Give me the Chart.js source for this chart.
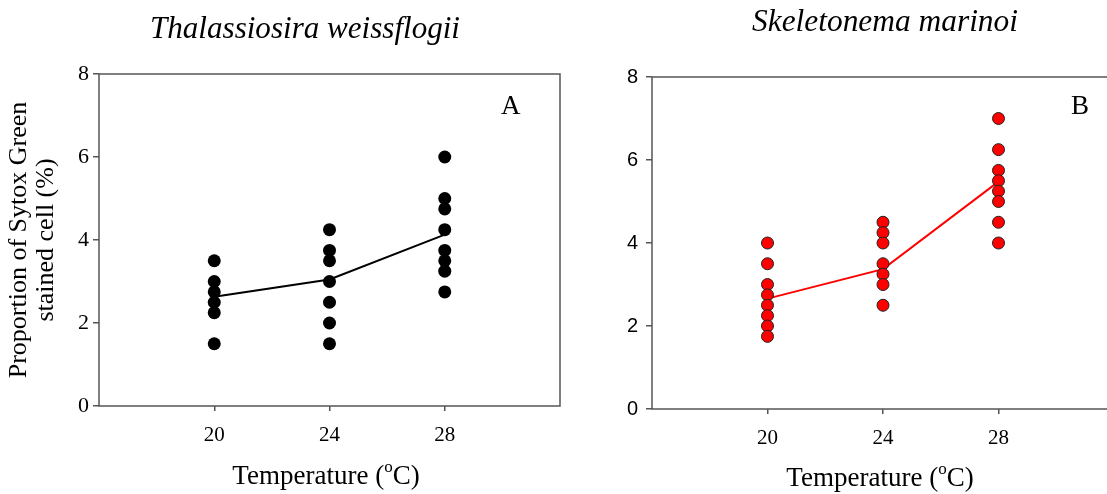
<!DOCTYPE html>
<html>
<head>
<meta charset="utf-8">
<title>Sytox Green staining vs temperature</title>
<script src="https://cdn.jsdelivr.net/npm/chart.js@4.4.0/dist/chart.umd.min.js"></script>
<style>
  html, body { margin: 0; padding: 0; background: #fff; }
  body { width: 1107px; height: 494px; overflow: hidden; position: relative; }
  .panel { position: absolute; top: 0; height: 494px; }
  #panelA { left: 0; width: 580px; }
  #panelB { left: 580px; width: 560px; }
</style>
</head>
<body>
<div class="panel" id="panelA"><canvas id="chartA" width="580" height="494"></canvas></div>
<div class="panel" id="panelB"><canvas id="chartB" width="560" height="494"></canvas></div>
<script>
// Temperatures (°C) and Sytox Green stained cells (%) per replicate
const temperatures = [20, 24, 28];
const xTicks = [20, 24, 28];
const yTicks = [0, 2, 4, 6, 8];

// Thalassiosira weissflogii
const tw20 = [3.5, 3.0, 2.75, 2.5, 2.25, 1.5];
const tw24 = [4.25, 3.75, 3.5, 3.0, 2.5, 2.0, 1.5];
const tw28 = [6.0, 5.0, 4.75, 4.25, 3.75, 3.5, 3.25, 2.75];
const twMeans = [2.63, 3.05, 4.13];

// Skeletonema marinoi
const sm20 = [4.0, 3.5, 3.0, 2.75, 2.5, 2.25, 2.0, 1.75];
const sm24 = [4.5, 4.25, 4.0, 3.5, 3.25, 3.0, 2.5];
const sm28 = [7.0, 6.25, 5.75, 5.5, 5.25, 5.0, 4.5, 4.0];
const smMeans = [2.66, 3.37, 5.48];

function toPoints(groups) {
  const pts = [];
  groups.forEach((vals, i) => vals.forEach(v => pts.push({ x: temperatures[i], y: v })));
  return pts;
}
function meanLine(means) {
  return means.map((m, i) => ({ x: temperatures[i], y: m }));
}

// frame, species name, panel letter and axis titles (superscript degree sign)
const panelText = {
  id: 'panelText',
  afterDraw(chart, args, o) {
    const ctx = chart.ctx, a = chart.chartArea;
    ctx.save();
    ctx.strokeStyle = '#555';
    ctx.lineWidth = 1.5;
    ctx.strokeRect(a.left, a.top, a.right - a.left, a.bottom - a.top);

    ctx.fillStyle = '#000';
    ctx.textBaseline = 'alphabetic';
    ctx.textAlign = 'left';

    // species name, condensed italic
    ctx.font = 'italic 31px "Liberation Serif"';
    const tw = ctx.measureText(o.title).width;
    ctx.save();
    ctx.translate(o.titleX - o.titleWidth / 2, o.titleY);
    ctx.scale(o.titleWidth / tw, 1);
    ctx.fillText(o.title, 0, 0);
    ctx.restore();

    // panel letter
    ctx.font = '27px "Liberation Serif"';
    ctx.fillText(o.letter, o.letterX, o.letterY);

    // x axis title
    const p1 = 'Temperature (', p2 = 'o', p3 = 'C)';
    ctx.font = '27px "Liberation Serif"';
    const w1 = ctx.measureText(p1).width, w3 = ctx.measureText(p3).width;
    ctx.font = '17px "Liberation Serif"';
    const w2 = ctx.measureText(p2).width;
    const x0 = o.xTitleX - (w1 + w2 + w3) / 2;
    ctx.font = '27px "Liberation Serif"';
    ctx.fillText(p1, x0, o.xTitleY);
    ctx.fillText(p3, x0 + w1 + w2, o.xTitleY);
    ctx.font = '17px "Liberation Serif"';
    ctx.fillText(p2, x0 + w1, o.xTitleY - 12);

    // y axis title, two lines
    if (o.yTitle) {
      ctx.font = '26px "Liberation Serif"';
      ctx.textAlign = 'center';
      ctx.textBaseline = 'middle';
      o.yTitle.forEach((line, i) => {
        ctx.save();
        ctx.translate(o.yTitleX[i], o.yTitleY);
        ctx.rotate(-Math.PI / 2);
        ctx.fillText(line, 0, 0);
        ctx.restore();
      });
    }
    ctx.restore();
  }
};

function makeChart(id, cfg) {
  return new Chart(document.getElementById(id), {
    type: 'scatter',
    data: {
      datasets: [
        {
          data: toPoints(cfg.groups),
          backgroundColor: cfg.fill,
          borderColor: cfg.edge,
          borderWidth: cfg.edgeWidth,
          pointRadius: cfg.radius,
          showLine: false
        },
        {
          data: meanLine(cfg.means),
          showLine: true,
          borderColor: cfg.lineColor,
          borderWidth: 2,
          pointRadius: 0,
          fill: false
        }
      ]
    },
    options: {
      responsive: false,
      animation: false,
      devicePixelRatio: 1,
      layout: { padding: { left: 0, top: cfg.top, right: cfg.padRight, bottom: 0 } },
      plugins: {
        legend: { display: false },
        tooltip: { enabled: false },
        panelText: cfg.text
      },
      scales: {
        x: {
          type: 'linear',
          min: 16, max: 32,
          afterBuildTicks: s => { s.ticks = xTicks.map(v => ({ value: v })); },
          afterFit: s => { s.height = cfg.xHeight; },
          border: { display: false },
          grid: { display: true, drawOnChartArea: false, drawTicks: true, tickLength: 5, color: '#555', lineWidth: 1.5 },
          ticks: { padding: 12, color: '#000', font: { family: 'Liberation Serif', size: 21 }, maxRotation: 0 }
        },
        y: {
          min: 0, max: 8,
          afterBuildTicks: s => { s.ticks = yTicks.map(v => ({ value: v })); },
          afterFit: s => { s.width = cfg.yWidth; },
          border: { display: false },
          grid: { display: true, drawOnChartArea: false, drawTicks: true, tickLength: 6, color: '#555', lineWidth: 1.5 },
          ticks: { padding: cfg.yPad, color: '#000', font: { family: cfg.yFont, size: cfg.ySize } }
        }
      }
    },
    plugins: [panelText]
  });
}

makeChart('chartA', {
  groups: [tw20, tw24, tw28],
  means: twMeans,
  fill: '#000', edge: '#000', edgeWidth: 0, radius: 6.5,
  lineColor: '#000',
  top: 74, padRight: 20, xHeight: 88, yWidth: 99, yPad: 4,
  yFont: 'Liberation Serif', ySize: 22,
  text: {
    title: 'Thalassiosira weissflogii', titleX: 305, titleY: 38, titleWidth: 310,
    letter: 'A', letterX: 501, letterY: 114,
    xTitleX: 326, xTitleY: 484,
    yTitle: ['Proportion of Sytox Green', 'stained cell (%)'], yTitleX: [19, 46], yTitleY: 240
  }
});

makeChart('chartB', {
  groups: [sm20, sm24, sm28],
  means: smMeans,
  fill: '#ff0000', edge: '#222', edgeWidth: 1, radius: 6,
  lineColor: '#ff0000',
  top: 77, padRight: 26, xHeight: 85, yWidth: 72, yPad: 8,
  yFont: 'Liberation Sans', ySize: 20,
  text: {
    title: 'Skeletonema marinoi', titleX: 305, titleY: 31, titleWidth: 266,
    letter: 'B', letterX: 491, letterY: 114,
    xTitleX: 300, xTitleY: 486
  }
});
</script>
</body>
</html>
